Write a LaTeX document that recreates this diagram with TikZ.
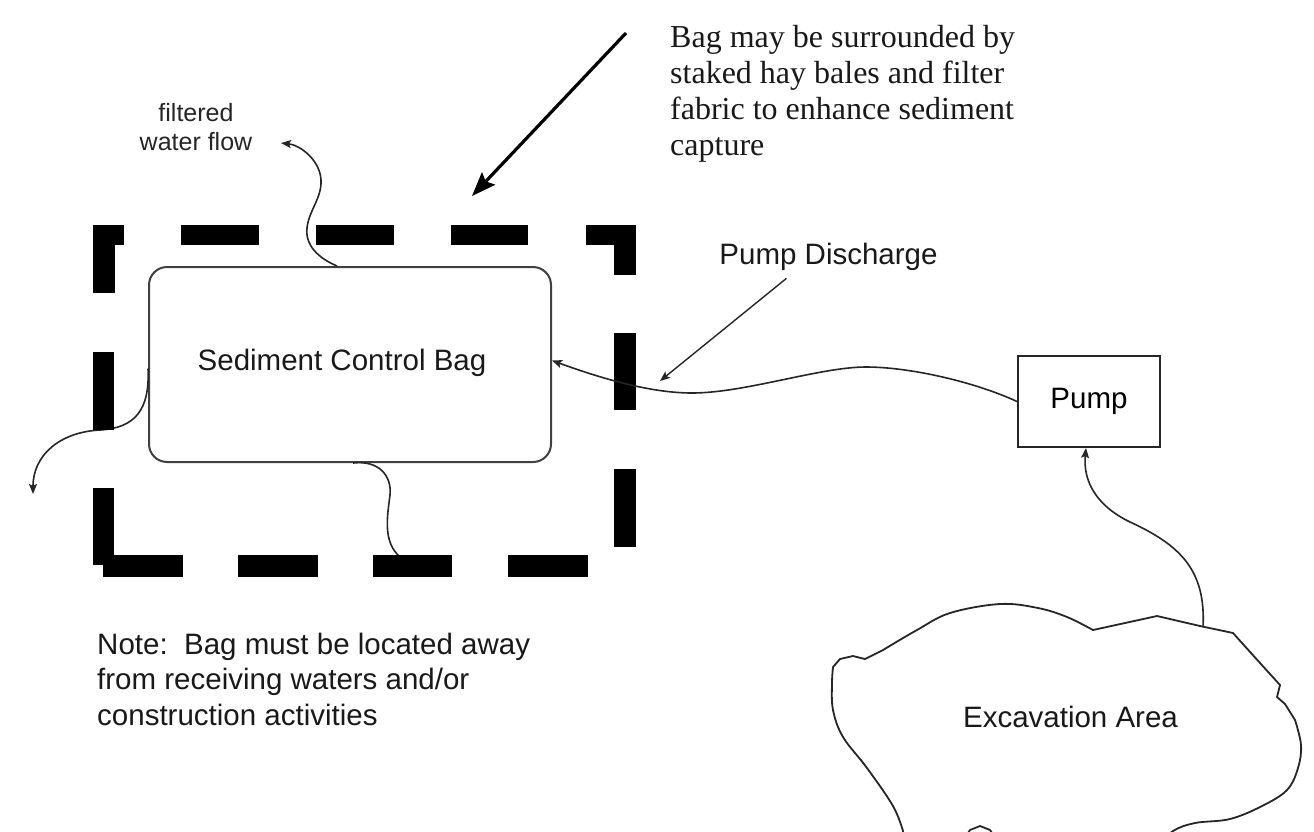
\documentclass[tikz,border=0pt]{standalone}
\usepackage{fontspec}
\setmainfont{Liberation Serif}
\newfontfamily\arialfont{Liberation Sans}
\usetikzlibrary{arrows.meta}
\begin{document}
\begin{tikzpicture}[x=1pt,y=-1pt,
  bale/.style={fill=black,draw=none},
  flow/.style={draw=black!85,line width=1.6pt},
  tip/.style={-{Stealth[length=10pt,width=8pt,inset=2pt]}},
  sanslabel/.style={font=\arialfont\fontsize{29.5}{35.5}\selectfont,text=black!90,inner sep=0pt},
  bagbox/.style={draw=black!75,line width=2pt,rounded corners=18pt,fill=none},
  pumpbox/.style={draw=black!85,line width=2pt,font=\arialfont\fontsize{29.5}{35.5}\selectfont,inner sep=0pt},
  outline/.style={draw=black!85,line width=1.8pt,line join=round}
]
% canvas
\useasboundingbox (0,0) rectangle (1314,831);
\fill[white] (0,0) rectangle (1314,831);
\clip (0,0) rectangle (1314,831);

% sediment control bag and pump
\node[bagbox,minimum width=402pt,minimum height=195pt] (bag) at (350,364.5) {};
\node[sanslabel,anchor=base] (bagtext) at (342,370) {Sediment Control Bag};
\node[pumpbox,minimum width=142pt,minimum height=91pt] (pump) at (1089,401.5) {Pump};

% flow lines leaving the bag
\draw[flow] ([xshift=3pt]bag.south) .. controls (378,460) and (392,475) .. (390,495)
  .. controls (387,518) and (383,542) .. (400,557);
\draw[flow,tip] ([xshift=-13pt]bag.north) .. controls (318,258) and (305,245) .. (307,228)
  .. controls (309,210) and (322,198) .. (321,180)
  .. controls (320,160) and (300,145) .. (281,143);
\draw[flow,tip] ([yshift=-4pt]bag.west) .. controls (150,410) and (135,428) .. (100,430)
  .. controls (60,432) and (33,455) .. (33,494);

% hay bale ring
\fill[bale] (93,225) rectangle (115,293);
\fill[bale] (93,225) rectangle (124,245);
\fill[bale] (181,225) rectangle (259,245);
\fill[bale] (316,225) rectangle (394,245);
\fill[bale] (451,225) rectangle (528,245);
\fill[bale] (586,225) rectangle (636,245);
\fill[bale] (614,225) rectangle (636,275);
\fill[bale] (93,352) rectangle (114,430);
\fill[bale] (93,488) rectangle (114,565);
\fill[bale] (103,555) rectangle (183,577);
\fill[bale] (238,555) rectangle (318,577);
\fill[bale] (373,555) rectangle (452,577);
\fill[bale] (508,555) rectangle (588,577);
\fill[bale] (614,333) rectangle (636,410);
\fill[bale] (614,469) rectangle (636,547);

% pump discharge hose
\draw[flow,tip] (pump.west) .. controls (975,382) and (910,367) .. (866,367)
  .. controls (820,367) and (745,393) .. (692,393)
  .. controls (650,393) and (600,378) .. ([yshift=4pt]bag.east);

% excavation area
\draw[outline] (833,667) -- (840,659) -- (853,656) -- (865,659)
  -- plot[smooth,tension=0.6] coordinates {(883,650) (917,630) (950,613) (1000,604) (1038,608) (1067,617) (1093,630)}
  -- (1157,616) -- (1200,626) -- (1233,633) -- (1260,663) -- (1280,685) -- (1277,697) -- (1285,704)
  -- plot[smooth,tension=0.6] coordinates {(1295,720) (1301,745) (1298,768) (1287,790) (1262,806) (1230,819) (1195,823) (1173,831) (1160,845)}
  -- (1000,845) -- (990,830) -- (980,826) -- (970,830) -- (960,845) -- (905,845)
  -- plot[smooth,tension=0.6] coordinates {(903,831) (893,806) (867,768) (843,737) (833,710) (832,683) (833,667)};
\coordinate (cloudtop) at (1203,627);
\node[sanslabel,anchor=base] (excavation) at (1070.5,727) {Excavation Area};
\draw[flow,tip] (cloudtop) .. controls (1206,570) and (1180,545) .. (1130,522)
  .. controls (1095,505) and (1083,480) .. ([xshift=-3pt]pump.south);

% labels and pointers
\node[font=\arialfont\fontsize{25}{29}\selectfont,text=black!85,align=center,anchor=north,inner sep=0pt]
  (filtered) at (196,103) {filtered\\water flow};
\node[sanslabel,anchor=base] (discharge) at (828.5,264) {Pump Discharge};
\coordinate (dischargetip) at (660,381);
\draw[draw=black!85,line width=1.4pt,tip] ([xshift=-42pt,yshift=-8pt]discharge.south) -- (dischargetip);

\node[font=\fontsize{32}{36}\selectfont,text=black!90,align=left,anchor=north west,inner sep=0pt]
  (hay) at (670,25) {Bag may be surrounded by\\staked hay bales and filter\\fabric to enhance sediment\\capture};
\coordinate (bigfrom) at (626,33);
\coordinate (bigto) at (472,196);
\draw[draw=black,line width=3.2pt,-{Stealth[length=24pt,width=18pt,inset=4pt]}] (bigfrom) -- (bigto);

\node[sanslabel,align=left,anchor=north west] (note) at (97,632.5)
  {Note:\ \ Bag must be located away\\from receiving waters and/or\\construction activities};
\end{tikzpicture}
\end{document}
